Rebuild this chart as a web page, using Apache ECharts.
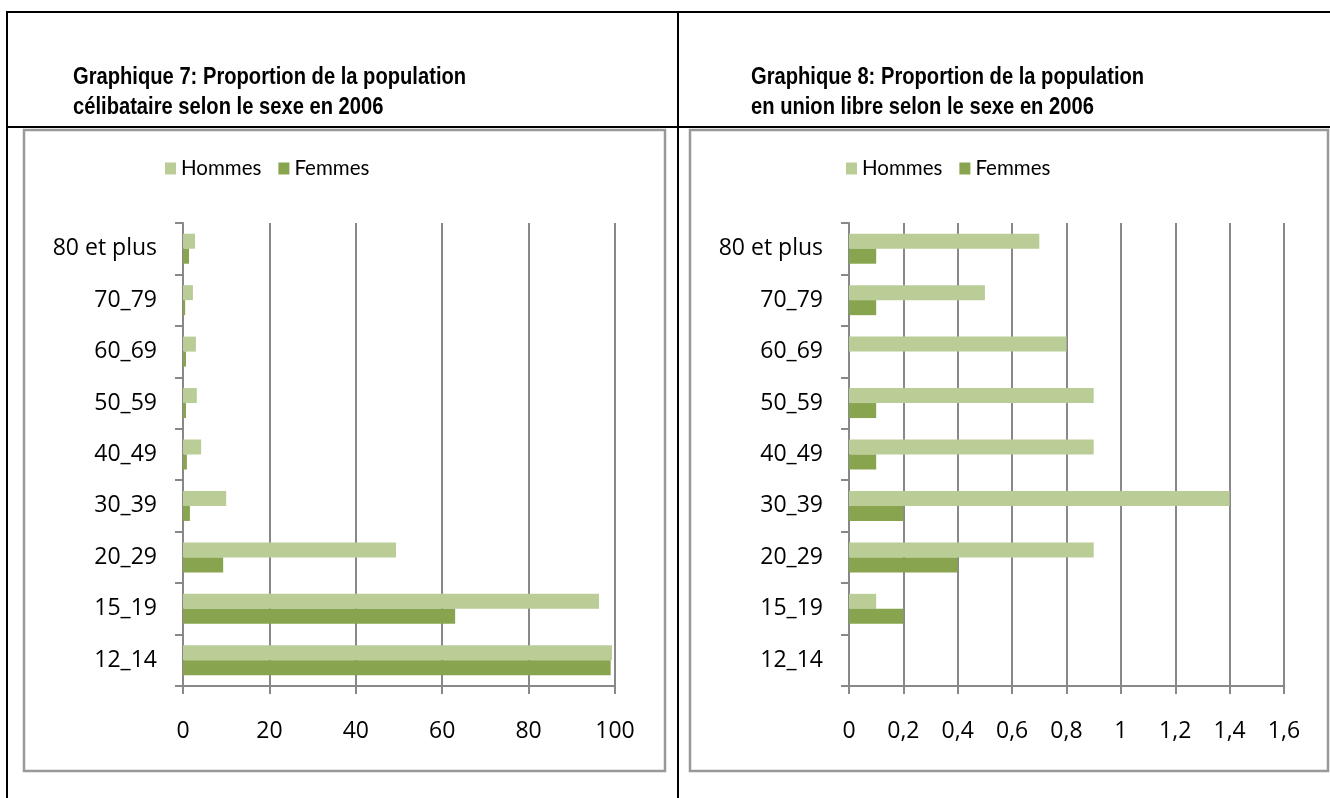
<!DOCTYPE html>
<html>
<head>
<meta charset="utf-8">
<script src="https://cdn.jsdelivr.net/npm/echarts@6/dist/echarts.min.js"></script>
<style>
  html, body { margin: 0; padding: 0; background: #fff; }
  #chart { width: 1330px; height: 798px; }
</style>
</head>
<body>
<div id="chart"></div>
<script>
// tranches d'âge (bas -> haut)
const categories = ['12_14', '15_19', '20_29', '30_39', '40_49', '50_59', '60_69', '70_79', '80 et plus']

// Graphique 7 : célibataires (%)
const celibHommes = [99.3, 96.3, 49.3, 10.0, 4.2, 3.2, 3.0, 2.3, 2.8]
const celibFemmes = [99.0, 63.0, 9.3, 1.6, 0.9, 0.7, 0.7, 0.5, 1.4]

// Graphique 8 : union libre (%)
const unionHommes = [0, 0.1, 0.9, 1.4, 0.9, 0.9, 0.8, 0.5, 0.7]
const unionFemmes = [0, 0.2, 0.4, 0.2, 0.1, 0.1, 0, 0.1, 0.1]

const titleLines = [
  ['Graphique 7: Proportion de la population', 'célibataire selon le sexe en 2006'],
  ['Graphique 8: Proportion de la population', 'en union libre selon le sexe en 2006']
]

const colorHommes = '#bacd97'
const colorFemmes = '#89a44e'
const gridColor = '#888888'

const chart = echarts.init(document.getElementById('chart'))

function xAxisOf(gridIndex, max, interval, fmt) {
  return {
    type: 'value',
    gridIndex: gridIndex,
    min: 0,
    max: max,
    interval: interval,
    axisLine: { show: true, lineStyle: { color: gridColor, width: 2 } },
    axisTick: { show: true, length: 8, lineStyle: { color: gridColor, width: 2 } },
    splitLine: { show: true, lineStyle: { color: gridColor, width: 2 } },
    axisLabel: { color: '#000', fontSize: 23, fontFamily: 'Open Sans', margin: 34, formatter: fmt }
  }
}

function yAxisOf(gridIndex) {
  return {
    type: 'category',
    gridIndex: gridIndex,
    data: categories,
    axisLine: { show: true, lineStyle: { color: gridColor, width: 2 } },
    axisTick: { show: true, length: 8, lineStyle: { color: gridColor, width: 2 } },
    axisLabel: { color: '#000', fontSize: 23, fontFamily: 'Open Sans', margin: 26 }
  }
}

function barSeries(name, data, color, idx) {
  return {
    name: name,
    type: 'bar',
    xAxisIndex: idx,
    yAxisIndex: idx,
    data: data,
    barWidth: 15,
    barGap: '0%',
    itemStyle: { color: color },
    silent: true
  }
}

const legendBase = {
  data: ['Hommes', 'Femmes'],
  padding: 0,
  itemWidth: 11,
  itemHeight: 12,
  itemGap: 17,
  icon: 'rect',
  textStyle: { color: '#000', fontSize: 20.5, fontFamily: 'Lato' }
}

// titre en gras, un peu condensé comme dans le document
function titleText(text, x, y) {
  return {
    type: 'text',
    x: x,
    y: y,
    scaleX: 0.84,
    style: {
      text: text,
      fill: '#000',
      font: 'bold 24px "Liberation Sans", Arial, sans-serif'
    }
  }
}

chart.setOption({
  backgroundColor: '#fff',
  animation: false,
  legend: [
    Object.assign({ left: 165, top: 158 }, legendBase),
    Object.assign({ left: 846, top: 158 }, legendBase)
  ],
  grid: [
    { left: 183, top: 223, width: 432, height: 463, containLabel: false },
    { left: 849, top: 223, width: 435, height: 463, containLabel: false }
  ],
  xAxis: [
    xAxisOf(0, 100, 20),
    xAxisOf(1, 1.6, 0.2, v => String(+v.toFixed(1)).replace('.', ','))
  ],
  yAxis: [yAxisOf(0), yAxisOf(1)],
  series: [
    barSeries('Hommes', celibHommes, colorHommes, 0),
    barSeries('Femmes', celibFemmes, colorFemmes, 0),
    barSeries('Hommes', unionHommes, colorHommes, 1),
    barSeries('Femmes', unionFemmes, colorFemmes, 1)
  ],
  graphic: [
    titleText(titleLines[0][0], 73, 65),
    titleText(titleLines[0][1], 73, 95),
    titleText(titleLines[1][0], 751, 65),
    titleText(titleLines[1][1], 751, 95),
    // cadre du tableau
    { type: 'line', shape: { x1: 6, y1: 12, x2: 1330, y2: 12 }, style: { stroke: '#000', lineWidth: 2 } },
    { type: 'line', shape: { x1: 6, y1: 127, x2: 1330, y2: 127 }, style: { stroke: '#000', lineWidth: 2 } },
    { type: 'line', shape: { x1: 7, y1: 12, x2: 7, y2: 798 }, style: { stroke: '#000', lineWidth: 2 } },
    { type: 'line', shape: { x1: 678, y1: 12, x2: 678, y2: 798 }, style: { stroke: '#000', lineWidth: 2 } },
    // cadres des graphiques
    { type: 'rect', shape: { x: 24, y: 130, width: 641, height: 641 }, style: { fill: null, stroke: '#999', lineWidth: 2.5 }, z: -1 },
    { type: 'rect', shape: { x: 690, y: 130, width: 638, height: 641 }, style: { fill: null, stroke: '#999', lineWidth: 2.5 }, z: -1 }
  ]
})
</script>
</body>
</html>
